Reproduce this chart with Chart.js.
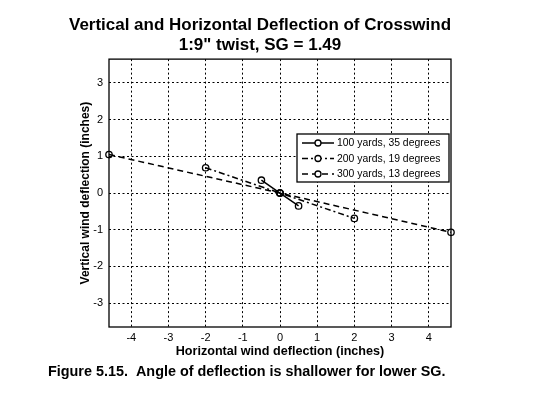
<!DOCTYPE html>
<html>
<head>
<meta charset="utf-8">
<script src="https://cdn.jsdelivr.net/npm/chart.js@4.4.1/dist/chart.umd.min.js"></script>
<style>
  html, body { margin: 0; padding: 0; background: #fff; }
  #wrap { width: 540px; height: 394px; position: relative; }
</style>
</head>
<body>
<div id="wrap"><canvas id="crosswind"></canvas></div>
<script>
/*===============
data
====================*/
const seriesLabels = ['100 yards, 35 degrees', '200 yards, 19 degrees', '300 yards, 13 degrees'];
const horiz100 = [-0.5, 0, 0.5];
const vert100 = [0.35, 0, -0.35];
const horiz200 = [-2, 0, 2];
const vert200 = [0.69, 0, -0.69];
const horiz300 = [-4.6, 0, 4.6];
const vert300 = [1.05, 0, -1.07];
const xTicks = [-4, -3, -2, -1, 0, 1, 2, 3, 4];
const yTicks = [-3, -2, -1, 0, 1, 2, 3];

const dashes = [[], [6, 3, 2, 3], [6, 4]];
const FONT = '"Liberation Sans", Arial, sans-serif';

function toPoints(xs, ys) {
    return xs.map((x, i) => ({ x: x, y: ys[i] }));
}

/*===============
box, legend and caption
====================*/
const framePlugin = {
    id: 'frame',
    afterDraw(chart) {
        const ctx = chart.ctx;
        const a = chart.chartArea;
        ctx.save();
        // full box around the plot
        ctx.strokeStyle = '#000';
        ctx.lineWidth = 1.3;
        ctx.setLineDash([]);
        ctx.strokeRect(a.left, a.top, a.right - a.left, a.bottom - a.top);

        // legend in the upper right
        const lx = 297, ly = 134, lw = 152, lh = 48;
        ctx.fillStyle = '#fff';
        ctx.fillRect(lx, ly, lw, lh);
        ctx.strokeRect(lx, ly, lw, lh);
        ctx.font = '10.4px ' + FONT;
        ctx.textBaseline = 'middle';
        chart.data.datasets.forEach((ds, i) => {
            const y = ly + 9 + i * 15.5;
            ctx.strokeStyle = '#000';
            ctx.lineWidth = 1.5;
            ctx.setLineDash(ds.borderDash);
            ctx.beginPath();
            ctx.moveTo(lx + 5, y);
            ctx.lineTo(lx + 37, y);
            ctx.stroke();
            ctx.setLineDash([]);
            ctx.lineWidth = 1.3;
            ctx.beginPath();
            ctx.arc(lx + 21, y, 3, 0, Math.PI * 2);
            ctx.fillStyle = '#fff';
            ctx.fill();
            ctx.stroke();
            ctx.fillStyle = '#000';
            ctx.fillText(ds.label, lx + 40, y + 0.5);
        });

        // figure caption
        ctx.font = 'bold 14.4px ' + FONT;
        ctx.textBaseline = 'middle';
        ctx.textAlign = 'left';
        ctx.fillText('Figure 5.15.  Angle of deflection is shallower for lower SG.', 48, 372);
        ctx.restore();
    }
};

const crossChart = document.getElementById('crosswind');
if (crossChart) {
    crossChart.width = 540;
    crossChart.height = 394;
    new Chart(crossChart, {
        type: 'scatter',
        data: {
            datasets: [
                { label: seriesLabels[0], data: toPoints(horiz100, vert100), borderDash: dashes[0] },
                { label: seriesLabels[1], data: toPoints(horiz200, vert200), borderDash: dashes[1] },
                { label: seriesLabels[2], data: toPoints(horiz300, vert300), borderDash: dashes[2] }
            ].map(ds => Object.assign(ds, {
                showLine: true,
                borderColor: '#000',
                borderWidth: 1.5,
                pointRadius: 3.2,
                pointBorderWidth: 1.3,
                pointBorderColor: '#000',
                pointBackgroundColor: 'rgba(0,0,0,0)',
                clip: false
            }))
        },
        options: {
            responsive: false,
            animation: false,
            layout: { padding: { left: 69, right: 89, top: 0, bottom: 35 } },
            plugins: {
                legend: { display: false },
                tooltip: { enabled: false },
                title: {
                    display: true,
                    text: ['Vertical and Horizontal Deflection of Crosswind', '1:9" twist, SG = 1.49'],
                    color: '#000',
                    font: { family: FONT, size: 17, weight: 'bold', lineHeight: 1.18 },
                    padding: { top: 15, bottom: 4 }
                }
            },
            scales: {
                x: {
                    type: 'linear',
                    min: -4.6,
                    max: 4.6,
                    afterBuildTicks: axis => { axis.ticks = xTicks.map(v => ({ value: v })); },
                    afterFit: axis => { axis.height = 32; },
                    grid: { color: '#000', lineWidth: 1, drawTicks: false },
                    border: { display: false, dash: [2, 2.5] },
                    ticks: { color: '#000', padding: 4, font: { family: FONT, size: 11 } },
                    title: {
                        display: true,
                        text: 'Horizontal wind deflection (inches)',
                        color: '#000',
                        padding: { top: 1, bottom: 0 },
                        font: { family: FONT, size: 12.6, weight: 'bold' }
                    }
                },
                y: {
                    type: 'linear',
                    min: -3.65,
                    max: 3.65,
                    afterBuildTicks: axis => { axis.ticks = yTicks.map(v => ({ value: v })); },
                    afterFit: axis => { axis.width = 40; },
                    grid: { color: '#000', lineWidth: 1, drawTicks: false },
                    border: { display: false, dash: [2, 2.5] },
                    ticks: { color: '#000', padding: 6, font: { family: FONT, size: 11 } },
                    title: {
                        display: true,
                        text: 'Vertical wind deflection (inches)',
                        color: '#000',
                        padding: { top: 9, bottom: 0 },
                        font: { family: FONT, size: 12, weight: 'bold' }
                    }
                }
            }
        },
        plugins: [framePlugin]
    });
}
</script>
</body>
</html>
